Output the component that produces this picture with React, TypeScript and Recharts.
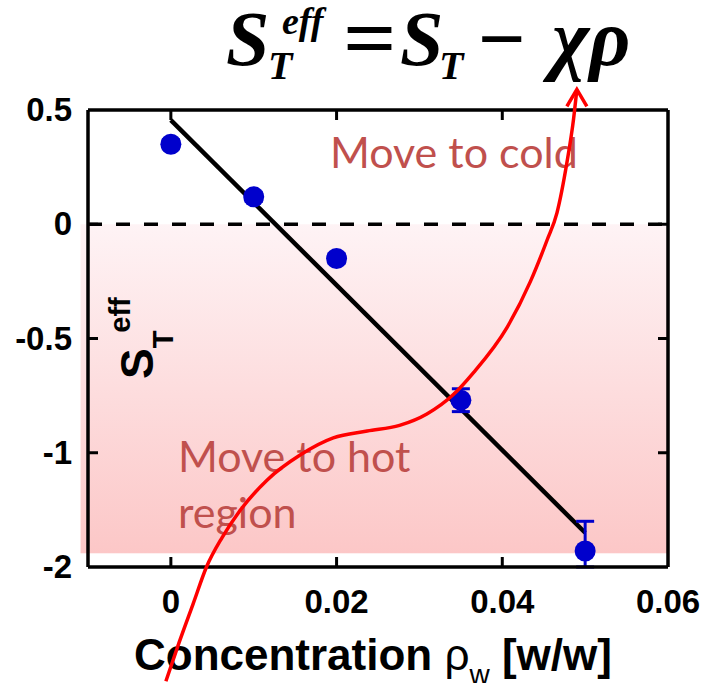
import React from 'react';
import {
  ComposedChart,
  LineChart,
  Line,
  Scatter,
  ErrorBar,
  XAxis,
  YAxis,
  ReferenceArea,
  ReferenceLine,
} from 'recharts';

// measured points
const conc = [0, 0.01, 0.02, 0.035, 0.05];
const seff = [0.35, 0.12, -0.15, -0.77, -1.43];
const errLow = [0.02, 0.02, 0.02, 0.05, 0.07];
const errHigh = [0.02, 0.02, 0.02, 0.05, 0.13];

// linear fit
const fitX = [0, 0.05];
const fitY = [0.456, -1.35];

// red sketch curve (S_T - chi*rho)
const curveX = [
  -0.0006, 0.001, 0.0027, 0.0043, 0.0062, 0.0082, 0.0116, 0.0156, 0.0196, 0.0237, 0.0276,
  0.0309, 0.0341, 0.0365, 0.0406, 0.0434, 0.0454, 0.0466, 0.0478, 0.0486, 0.049,
];
const curveY = [
  -2.0, -1.83, -1.66, -1.5, -1.37, -1.26, -1.12, -1.01, -0.935, -0.905, -0.88,
  -0.83, -0.745, -0.65, -0.45, -0.25, -0.07, 0.05, 0.27, 0.46, 0.59,
];

const xTicks = [0, 0.02, 0.04, 0.06];
const xTickLabels = ['0', '0.02', '0.04', '0.06'];
const yTicks = [0.5, 0, -0.5, -1, -1.5];
const yTickLabels = ['0.5', '0', '-0.5', '-1', '-2'];

const W = 706;
const H = 683;
const PLOT_T = 110;
const PLOT_B = 567;
const X_DOMAIN = [-0.01, 0.06];
const Y_DOMAIN = [-1.5, 0.5];
const OVER_T = 80;

const points = conc.map((x, i) => ({ x, y: seff[i], err: [errLow[i], errHigh[i]] }));
const fit = fitX.map((x, i) => ({ x, y: fitY[i] }));
const curve = curveX.map((x, i) => ({ x, y: curveY[i] }));

// same pixel mapping for the overlay chart that carries the red curve
const ppu = (PLOT_B - PLOT_T) / (Y_DOMAIN[1] - Y_DOMAIN[0]);
const overlayY = [Y_DOMAIN[0] - (H - PLOT_B) / ppu, Y_DOMAIN[1] + (PLOT_T - OVER_T) / ppu];

const tickFont = {
  fontFamily: "'Liberation Sans', Arial, sans-serif",
  fontWeight: 'bold' as const,
  fontSize: 33,
  fill: '#000',
};

const isEnd = (v: number, list: number[]) => v === Math.min(...list) || v === Math.max(...list);

const LeftTick = (p: any) => {
  const i = yTicks.indexOf(p.payload.value);
  return (
    <g>
      {!isEnd(p.payload.value, Y_DOMAIN) && (
        <line x1={p.x} y1={p.y} x2={p.x + 10} y2={p.y} stroke="#000" strokeWidth={3} />
      )}
      <text x={p.x - 16} y={p.y + 11} textAnchor="end" {...tickFont}>
        {yTickLabels[i]}
      </text>
    </g>
  );
};

const RightTick = (p: any) =>
  isEnd(p.payload.value, Y_DOMAIN) ? (
    <g />
  ) : (
    <line x1={p.x} y1={p.y} x2={p.x - 10} y2={p.y} stroke="#000" strokeWidth={3} />
  );

const BottomTick = (p: any) => {
  const i = xTicks.indexOf(p.payload.value);
  return (
    <g>
      {!isEnd(p.payload.value, X_DOMAIN) && (
        <line x1={p.x} y1={p.y} x2={p.x} y2={p.y - 10} stroke="#000" strokeWidth={3} />
      )}
      <text x={p.x} y={p.y + 46} textAnchor="middle" {...tickFont}>
        {xTickLabels[i]}
      </text>
    </g>
  );
};

const TopTick = (p: any) =>
  isEnd(p.payload.value, X_DOMAIN) ? (
    <g />
  ) : (
    <line x1={p.x} y1={p.y} x2={p.x} y2={p.y + 10} stroke="#000" strokeWidth={3} />
  );

const PinkRect = (p: any) => (
  <g>
    <defs>
      <linearGradient id="pinkFade" x1="0" y1="0" x2="0" y2="1">
        <stop offset="0%" stopColor="#fef3f5" />
        <stop offset="100%" stopColor="#fcc7c7" />
      </linearGradient>
    </defs>
    <rect x={p.x} y={p.y} width={p.width} height={p.height} fill="url(#pinkFade)" />
  </g>
);

const Dot = (p: any) => <circle cx={p.cx} cy={p.cy} r={10.5} fill="#0000cc" />;

const ArrowHead = (p: any) => {
  if (p.index !== curve.length - 1) return <g key={p.index} />;
  return (
    <path
      key={p.index}
      d={`M${p.cx - 10},${p.cy + 17} L${p.cx},${p.cy} L${p.cx + 10},${p.cy + 17}`}
      fill="none"
      stroke="#ff0000"
      strokeWidth={3.5}
    />
  );
};

const axisLine = { stroke: '#000', strokeWidth: 3.5 };
const layer: React.CSSProperties = { position: 'absolute', left: 0, top: 0 };
const noteFont = { fontFamily: 'Lato, sans-serif', fontSize: 43, fill: '#c0504d' };
const serif = {
  fontFamily: 'Liberation Serif',
  fontWeight: 'bold' as const,
  fontStyle: 'italic' as const,
  fill: '#000',
};
const serifUp = { ...serif, fontStyle: 'normal' as const };

export default function App() {
  return (
    <div style={{ position: 'absolute', left: 0, top: 0, width: W, height: H, background: '#fff' }}>
      <div style={layer}>
        <ComposedChart width={W} height={H} data={points} margin={{ top: 0, right: 0, bottom: 0, left: 0 }}>
          <XAxis
            dataKey="x"
            type="number"
            domain={X_DOMAIN}
            allowDataOverflow
            ticks={xTicks}
            interval={0}
            height={H - PLOT_B}
            tickSize={0}
            tickMargin={0}
            tickLine={false}
            axisLine={axisLine}
            tick={BottomTick}
          />
          <XAxis
            xAxisId="top"
            orientation="top"
            dataKey="x"
            type="number"
            domain={X_DOMAIN}
            allowDataOverflow
            ticks={xTicks}
            interval={0}
            height={PLOT_T}
            tickSize={0}
            tickMargin={0}
            tickLine={false}
            axisLine={axisLine}
            tick={TopTick}
          />
          <YAxis
            dataKey="y"
            type="number"
            domain={Y_DOMAIN}
            allowDataOverflow
            ticks={yTicks}
            interval={0}
            width={88}
            tickSize={0}
            tickMargin={0}
            tickLine={false}
            axisLine={axisLine}
            tick={LeftTick}
          />
          <YAxis
            yAxisId="right"
            orientation="right"
            dataKey="y"
            type="number"
            domain={Y_DOMAIN}
            allowDataOverflow
            ticks={yTicks}
            interval={0}
            width={38}
            tickSize={0}
            tickMargin={0}
            tickLine={false}
            axisLine={axisLine}
            tick={RightTick}
          />
          <ReferenceArea x1={-0.0109} x2={0.0599} y1={0} y2={-1.44} ifOverflow="visible" shape={PinkRect} />
          <ReferenceLine y={0} stroke="#000" strokeWidth={3.5} strokeDasharray="14 14" />
          {/* the fit line sits on the frame axes (top/right), which share the same scales */}
          <Line
            data={fit}
            xAxisId="top"
            yAxisId="right"
            dataKey="y"
            stroke="#000"
            strokeWidth={4.5}
            dot={false}
            isAnimationActive={false}
          />
          <Scatter data={points} dataKey="y" shape={Dot} isAnimationActive={false}>
            <ErrorBar dataKey="err" direction="y" width={9} stroke="#0000cc" strokeWidth={3} />
          </Scatter>
        </ComposedChart>
      </div>

      <svg style={{ ...layer, pointerEvents: 'none' }} width={W} height={H}>
        {/* equation */}
        <text x={226} y={65} fontSize={78} {...serif}>S</text>
        <text x={282} y={34} fontSize={38} {...serif}>eff</text>
        <text x={268} y={79} fontSize={40} {...serif}>T</text>
        <text transform="translate(343, 67) scale(1.12, 1)" fontSize={84} {...serifUp}>=</text>
        <text x={400} y={65} fontSize={78} {...serif}>S</text>
        <text x={439} y={79} fontSize={40} {...serif}>T</text>
        <text x={478} y={67} fontSize={84} {...serifUp}>−</text>
        <text x={552} y={65} fontSize={80} {...serif}>χρ</text>

        {/* y label */}
        <text
          transform="translate(153, 379) rotate(-90)"
          fontFamily="'Liberation Sans', Arial, sans-serif"
          fontWeight="bold"
          fill="#000"
        >
          <tspan fontSize={46}>S</tspan>
          <tspan fontSize={29} dy={20}>T</tspan>
          <tspan fontSize={29} dy={-43}>eff</tspan>
        </text>

        {/* notes */}
        <text x={330} y={168} {...noteFont}>Move to cold</text>
        <text x={178} y={472} {...noteFont}>Move to hot</text>
        <text x={178} y={528} {...noteFont}>region</text>

        {/* x label */}
        <text x={134} y={670} fontFamily="'Liberation Sans', Arial, sans-serif" fontSize={44} fill="#000">
          <tspan fontWeight="bold">Concentration </tspan>
          <tspan>ρ</tspan>
          <tspan fontSize={28} dy={14}>w</tspan>
          <tspan fontWeight="bold" dy={-14}> [w/w]</tspan>
        </text>
      </svg>

      <div style={{ ...layer, pointerEvents: 'none' }}>
        <LineChart width={W} height={H} data={curve} margin={{ top: OVER_T, right: 38, bottom: 0, left: 88 }}>
          <XAxis hide dataKey="x" type="number" domain={X_DOMAIN} allowDataOverflow />
          <YAxis hide type="number" domain={overlayY} allowDataOverflow />
          <Line
            type="monotone"
            dataKey="y"
            stroke="#ff0000"
            strokeWidth={3.5}
            dot={ArrowHead}
            isAnimationActive={false}
          />
        </LineChart>
      </div>
    </div>
  );
}
